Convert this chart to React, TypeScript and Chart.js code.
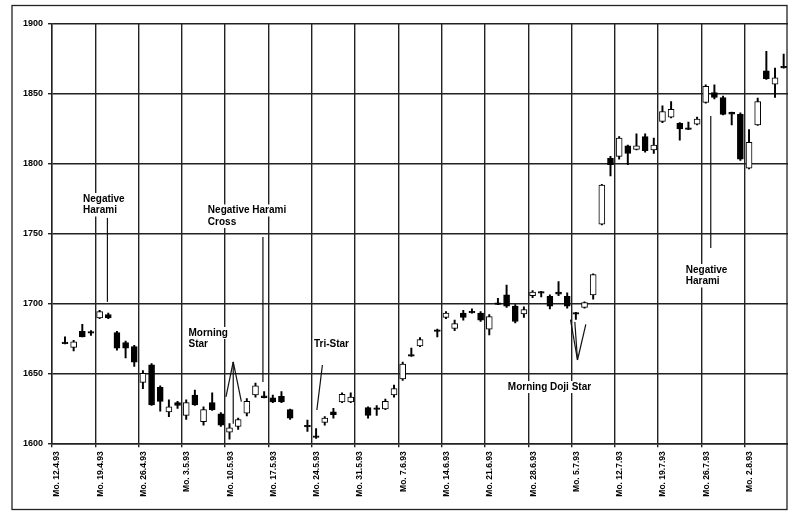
import React, { useEffect, useRef } from 'react';
import { Chart, registerables } from 'chart.js';

Chart.register(...registerables);

// Week start labels (Mondays)
const weekLabels = [
  'Mo. 12.4.93', 'Mo. 19.4.93', 'Mo. 26.4.93', 'Mo. 3.5.93', 'Mo. 10.5.93', 'Mo. 17.5.93',
  'Mo. 24.5.93', 'Mo. 31.5.93', 'Mo. 7.6.93', 'Mo. 14.6.93', 'Mo. 21.6.93', 'Mo. 28.6.93',
  'Mo. 5.7.93', 'Mo. 12.7.93', 'Mo. 19.7.93', 'Mo. 26.7.93', 'Mo. 2.8.93',
];

// Trading-day slot (5 slots per week, 0 = Mo. 12.4.93)
const dayIndex = [
  1, 2, 3, 4,
  5, 6, 7, 8, 9,
  10, 11, 12, 13, 14,
  15, 16, 17, 18, 19,
  20, 21, 22, 23, 24,
  25, 26, 27, 29,
  30, 31, 32, 33, 34,
  36, 37, 38, 39,
  40, 41, 42, 44,
  45, 46, 47, 48, 49,
  50, 51, 52, 53, 54,
  55, 56, 57, 58, 59,
  60, 61, 62, 63, 64,
  65, 66, 67, 68, 69,
  70, 71, 72, 73, 74,
  75, 76, 77, 78, 79,
  80, 81, 82, 83, 84,
];

const openValues = [
  1671.5, 1668.5, 1680, 1679,
  1689.5, 1692, 1679, 1672, 1669,
  1643.5, 1656, 1640, 1622.5, 1629,
  1620, 1634.5, 1615.5, 1629, 1621,
  1608, 1612, 1621.5, 1634.5, 1633,
  1632.5, 1633.5, 1624, 1612.5,
  1604.5, 1615, 1622.5, 1629.5, 1629.5,
  1625.5, 1624.5, 1624.5, 1634.5,
  1646, 1662.5, 1669.5, 1681,
  1690, 1682, 1693, 1693.5, 1693,
  1681.5, 1699.5, 1706, 1698, 1692.5,
  1705.5, 1708, 1705, 1708, 1705,
  1693, 1697, 1706, 1756.5, 1803.5,
  1805, 1812.5, 1810, 1819, 1809.5,
  1830, 1833, 1828.5, 1824.5, 1828,
  1843.5, 1850.5, 1847, 1836, 1835,
  1796.5, 1827.5, 1866, 1856.5, 1868.5,
];

const highValues = [
  1676, 1673.5, 1685, 1680.5,
  1695, 1693, 1680, 1673, 1670,
  1652, 1657, 1641, 1631, 1630,
  1631, 1638, 1626, 1636, 1622,
  1614, 1618, 1632, 1643, 1637,
  1634.5, 1637, 1624.5, 1616.5,
  1610.5, 1619, 1625, 1636, 1636,
  1626, 1627, 1631.5, 1641.5,
  1658, 1668, 1675.5, 1681.5,
  1694, 1688, 1695, 1696, 1694,
  1692, 1703.5, 1713, 1699, 1697.5,
  1709, 1708.5, 1706, 1715.5, 1707.5,
  1693.5, 1701, 1721, 1785, 1805,
  1819, 1813, 1821, 1821, 1818,
  1841, 1844, 1829, 1829.5, 1833,
  1856, 1856, 1848, 1836.5, 1836,
  1824, 1846.5, 1880, 1868, 1878,
];

const lowValues = [
  1671, 1666, 1676, 1677,
  1689, 1689, 1666.5, 1661, 1655,
  1639, 1627, 1623, 1619, 1625,
  1617, 1627, 1613, 1623.5, 1612,
  1603, 1610, 1619.5, 1633, 1632.5,
  1629, 1629, 1617, 1608.5,
  1603.5, 1613, 1618, 1629, 1629,
  1618, 1620, 1624, 1633,
  1645, 1662, 1669, 1676,
  1689, 1680.5, 1688, 1693, 1687,
  1677.5, 1699, 1697, 1686, 1690,
  1704, 1704.5, 1696, 1705.5, 1696.5,
  1688.5, 1696.5, 1703, 1756, 1791,
  1803, 1799, 1809.5, 1808, 1807,
  1829, 1832.5, 1816.5, 1824, 1827.5,
  1843, 1846, 1834.5, 1827.5, 1802,
  1796, 1827, 1860, 1847, 1868,
];

const closeValues = [
  1672, 1672.5, 1676, 1679.5,
  1694, 1689.5, 1668, 1668, 1658,
  1650, 1627.5, 1630, 1626, 1627,
  1629, 1627.5, 1624, 1624, 1613,
  1611, 1617, 1630, 1641, 1633.5,
  1629.5, 1629.5, 1618, 1612,
  1605, 1618, 1620.5, 1635, 1633,
  1620, 1625, 1630, 1639,
  1656.5, 1663, 1674, 1680,
  1693, 1685.5, 1690, 1694, 1688,
  1690.5, 1700, 1698, 1687, 1695.5,
  1708, 1707.5, 1698, 1706.5, 1698,
  1692.5, 1700.5, 1720.5, 1784.5, 1799,
  1818, 1807, 1812.5, 1809, 1813,
  1837, 1838.5, 1824.5, 1825, 1831.5,
  1855, 1847, 1835, 1835.5, 1803,
  1815, 1844, 1860.5, 1861, 1869,
];

// Pattern annotations (text anchored at left / first-line middle, in data units)
const annotationTexts = [
  { lines: ['Negative', 'Harami'], x: 3.58, y: 1774.5 },
  { lines: ['Negative Harami', 'Cross'], x: 18.0, y: 1766.3 },
  { lines: ['Morning', 'Star'], x: 15.76, y: 1678.8 },
  { lines: ['Tri-Star'], x: 30.25, y: 1670.9 },
  { lines: ['Morning Doji Star'], x: 52.64, y: 1640.2 },
  { lines: ['Negative', 'Harami'], x: 73.19, y: 1723.8 },
];

const annotationLines = [
  [6.4, 1761, 6.4, 1701],
  [24.36, 1747.4, 24.36, 1643.8],
  [20.93, 1658.1, 20.09, 1633.1],
  [20.93, 1658.1, 20.93, 1614],
  [20.93, 1658.1, 21.87, 1629.7],
  [31.23, 1655.9, 30.59, 1623.8],
  [60.69, 1659.5, 59.88, 1688.4],
  [60.69, 1659.5, 60.38, 1686.6],
  [60.69, 1659.5, 61.65, 1685],
  [76.08, 1833.8, 76.08, 1739.5],
];

const FONT = "'Liberation Sans', Arial, sans-serif";

const annotationPlugin = {
  id: 'patternNotes',
  afterDatasetsDraw(chart: any) {
    const { ctx, scales } = chart;
    const xs = scales.x;
    const ys = scales.y;
    ctx.save();
    ctx.strokeStyle = '#111';
    ctx.lineWidth = 1.2;
    annotationLines.forEach((l) => {
      ctx.beginPath();
      ctx.moveTo(xs.getPixelForValue(l[0]), ys.getPixelForValue(l[1]));
      ctx.lineTo(xs.getPixelForValue(l[2]), ys.getPixelForValue(l[3]));
      ctx.stroke();
    });
    ctx.font = `bold 10px ${FONT}`;
    ctx.textBaseline = 'middle';
    ctx.textAlign = 'left';
    annotationTexts.forEach((a) => {
      const px = xs.getPixelForValue(a.x);
      const py = ys.getPixelForValue(a.y);
      a.lines.forEach((t, i) => {
        const w = ctx.measureText(t).width;
        ctx.fillStyle = '#fff';
        ctx.fillRect(px - 1, py + i * 11.5 - 6, w + 2, 12);
        ctx.fillStyle = '#000';
        ctx.fillText(t, px, py + i * 11.5);
      });
    });
    ctx.restore();
  },
  afterDraw(chart: any) {
    const { ctx } = chart;
    ctx.save();
    ctx.strokeStyle = '#222';
    ctx.lineWidth = 1.3;
    ctx.strokeRect(12, 5.5, 775, 504);
    ctx.restore();
  },
};

export default function App() {
  const ref = useRef<HTMLCanvasElement | null>(null);

  useEffect(() => {
    if (!ref.current) return;
    const bodies = dayIndex.map((d, i) => {
      let lo = Math.min(openValues[i], closeValues[i]);
      let hi = Math.max(openValues[i], closeValues[i]);
      if (hi - lo < 1.2) {
        const m = (hi + lo) / 2;
        lo = m - 0.6;
        hi = m + 0.6;
      }
      return { x: d + 0.5, y: [lo, hi] };
    });
    const bodyColors = dayIndex.map((_, i) =>
      closeValues[i] - openValues[i] >= 1.2 ? '#ffffff' : '#000000'
    );
    const wicks = dayIndex.map((d, i) => ({ x: d + 0.5, y: [lowValues[i], highValues[i]] }));

    const chart = new Chart(ref.current, {
      type: 'bar',
      data: {
        datasets: [
          {
            data: bodies as any,
            backgroundColor: bodyColors,
            borderColor: '#000',
            borderWidth: 1,
            borderSkipped: false,
            barThickness: 6,
            grouped: false,
            order: 1,
          } as any,
          {
            data: wicks as any,
            backgroundColor: '#000',
            borderWidth: 0,
            barThickness: 1.3,
            grouped: false,
            order: 2,
          } as any,
        ],
      },
      options: {
        responsive: false,
        animation: false,
        devicePixelRatio: 1,
        layout: { padding: { top: 23.3, left: 0, right: 0, bottom: 0 } },
        plugins: { legend: { display: false }, tooltip: { enabled: false } },
        scales: {
          x: {
            type: 'linear',
            min: 0,
            max: 85,
            offset: false,
            afterBuildTicks: (s: any) => {
              s.ticks = weekLabels.map((_, i) => ({ value: i * 5 }));
            },
            afterFit: (s: any) => {
              s.height = 512 - 443.3;
            },
            ticks: {
              autoSkip: false,
              minRotation: 90,
              maxRotation: 90,
              padding: 4,
              labelOffset: 5,
              color: '#000',
              font: { family: FONT, weight: 'bold', size: 8.5 },
              callback: (v: any) => weekLabels[Math.round(Number(v) / 5)] ?? '',
            },
            grid: { offset: false, color: '#222', lineWidth: 1.4, tickLength: 4, drawTicks: true },
            border: { display: true, color: '#222', width: 1.4 },
          },
          y: {
            min: 1600,
            max: 1900,
            afterFit: (s: any) => {
              s.width = 52;
            },
            ticks: {
              stepSize: 50,
              padding: 5,
              color: '#000',
              font: { family: FONT, weight: 'bold', size: 9 },
              callback: (v: any) => String(v),
            },
            grid: { color: '#222', lineWidth: 1.4, tickLength: 4, drawTicks: true },
            border: { display: true, color: '#222', width: 1.4 },
          },
        },
      } as any,
      plugins: [annotationPlugin],
    });
    return () => chart.destroy();
  }, []);

  return (
    <div style={{ position: 'absolute', left: 0, top: 0, width: 788, height: 512, background: '#fff' }}>
      <canvas ref={ref} width={788} height={512} style={{ width: 788, height: 512, display: 'block' }} />
    </div>
  );
}
